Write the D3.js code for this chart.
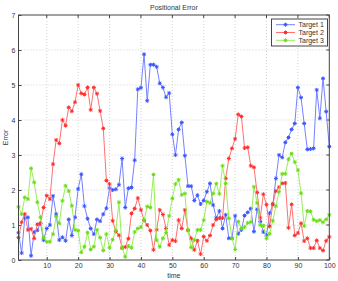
<!DOCTYPE html>
<html><head><meta charset="utf-8">
<script src="https://cdn.jsdelivr.net/npm/d3@7"></script>
<style>
html,body{margin:0;padding:0;background:#fff;}
text{font-family:"Liberation Sans",Arial,sans-serif;fill:#333;}
</style></head>
<body>
<svg id="chart" width="338" height="281"></svg>
<script>
const title = "Positional Error";
const xLabel = "time";
const yLabel = "Error";
const seriesNames = ["Target 1", "Target 2", "Target 3"];
const xTicks = [10,20,30,40,50,60,70,80,90,100];
const yTicks = [0,1,2,3,4,5,6,7];
const target1 = [0.78,0.2,1.2,1.22,0.12,0.8,0.85,1.05,0.57,0.9,1.0,1.83,1.31,0.57,0.65,0.55,1.16,0.7,1.22,2.03,2.45,1.54,1.18,0.9,0.74,1.16,1.11,1.31,1.48,2.06,2.0,2.02,2.15,2.9,1.5,2.05,2.07,2.85,4.88,4.92,5.88,4.55,5.58,5.58,5.52,5.05,4.93,4.65,4.77,3.59,3.0,3.73,3.93,2.98,2.11,2.11,1.7,1.85,1.6,1.7,1.95,2.19,1.57,1.2,1.4,0.9,1.29,0.62,0.62,1.26,0.75,0.86,1.27,1.36,1.47,0.81,1.45,1.1,0.8,0.71,1.34,1.58,2.33,3.0,2.93,3.36,3.5,3.73,3.9,4.93,4.64,3.9,3.16,3.17,3.19,4.86,4.05,5.19,4.24,3.24];
const target2 = [0.64,1.08,1.31,0.86,0.89,0.62,1.02,1.05,1.5,1.84,1.74,2.74,3.43,3.33,4.0,3.84,4.36,4.25,4.51,5.0,4.76,4.73,4.93,4.29,4.93,4.75,4.26,3.76,2.27,2.17,1.12,0.81,0.71,0.34,0.37,0.61,1.33,1.47,1.77,1.43,1.13,1.0,0.84,0.29,0.86,1.43,1.3,0.9,0.43,0.57,0.54,1.14,0.9,1.43,0.84,0.62,0.29,0.55,0.17,0.67,0.55,0.7,1.0,1.16,1.2,1.2,2.33,2.9,3.19,3.46,4.16,4.1,3.2,3.22,2.69,2.65,1.93,1.2,1.88,1.58,0.96,1.6,1.97,2.08,2.19,2.2,0.92,1.59,0.7,0.77,1.05,0.54,0.62,0.34,0.34,0.56,0.34,0.27,0.55,0.66];
const target3 = [1.52,1.31,1.79,1.74,2.62,2.22,1.65,1.22,0.64,0.52,0.52,0.74,1.24,1.05,1.69,2.12,1.97,1.55,0.86,0.84,0.22,0.38,0.78,0.3,0.38,0.86,0.64,0.27,0.74,0.35,0.58,0.85,1.65,0.36,0.09,0.4,0.35,0.8,0.9,0.94,1.14,1.53,1.5,2.44,0.57,0.38,0.62,0.78,1.26,1.76,2.17,2.29,1.86,1.9,0.86,0.36,0.57,0.86,0.86,1.14,1.67,1.63,1.9,2.18,1.89,2.69,2.19,1.19,0.62,0.3,1.1,0.9,0.94,1.06,1.08,2.09,1.63,1.0,0.98,0.62,0.75,1.12,1.54,1.95,2.46,2.46,2.88,3.04,2.8,2.57,1.91,0.97,1.4,1.39,1.15,1.11,1.14,1.08,1.16,1.29];
const lineColors = ["#7482ff","#ff7070","#98ee58"];
const markColors = ["#3a55ff","#ff2e2e","#6ade14"];

const allSeries = [target1, target2, target3];
const svg = d3.select("#chart");
const L = 18.5, R = 329.3, T = 15, B = 260;
const FS = "7px";
const x = d3.scaleLinear().domain([1,100]).range([L,R]);
const y = d3.scaleLinear().domain([0,7]).range([B,T]);

// grid
const g = svg.append("g");
g.selectAll(".gx").data(xTicks.filter(d=>d<100)).enter().append("line")
  .attr("x1",d=>x(d)).attr("x2",d=>x(d)).attr("y1",T).attr("y2",B)
  .attr("stroke","#c8c8c8").attr("stroke-width",0.8).attr("stroke-dasharray","1,2");
g.selectAll(".gy").data(yTicks.filter(d=>d>0&&d<7)).enter().append("line")
  .attr("y1",d=>y(d)).attr("y2",d=>y(d)).attr("x1",L).attr("x2",R)
  .attr("stroke","#c8c8c8").attr("stroke-width",0.8).attr("stroke-dasharray","1,2");

// axes via d3
const xAxis = d3.axisBottom(x).tickValues(xTicks).tickFormat(d3.format("d")).tickSize(-3).tickPadding(3.5);
const yAxis = d3.axisLeft(y).tickValues(yTicks).tickFormat(d3.format("d")).tickSize(-3).tickPadding(3);
const xa = svg.append("g").attr("transform",`translate(0,${B})`).call(xAxis);
const ya = svg.append("g").attr("transform",`translate(${L},0)`).call(yAxis);
[xa,ya].forEach(a=>{
  a.select(".domain").remove();
  a.selectAll("line").attr("stroke","#444");
  a.selectAll("text").attr("font-size",FS).attr("fill","#333").style("font-family","'Liberation Sans',Arial,sans-serif");
});
// top and right ticks
svg.append("g").selectAll("line").data(xTicks).enter().append("line")
  .attr("x1",d=>x(d)).attr("x2",d=>x(d)).attr("y1",T).attr("y2",T+3).attr("stroke","#444");
svg.append("g").selectAll("line").data(yTicks).enter().append("line")
  .attr("y1",d=>y(d)).attr("y2",d=>y(d)).attr("x1",R).attr("x2",R-3).attr("stroke","#444");

// series
const line = d3.line().x((d,i)=>x(i+1)).y(d=>y(d));
function star(sel, color){
  sel.each(function(){
    const s = d3.select(this);
    const r = 2, q = 1.45;
    s.append("path").attr("d",`M${-r},0L${r},0M0,${-r}L0,${r}M${-q},${-q}L${q},${q}M${-q},${q}L${q},${-q}`)
      .attr("stroke",color).attr("stroke-width",1).attr("fill","none");
  });
}
allSeries.forEach((data,k)=>{
  svg.append("path").datum(data).attr("d",line).attr("fill","none")
    .attr("stroke",lineColors[k]).attr("stroke-width",1);
  svg.append("g").selectAll("g").data(data).enter().append("g")
    .attr("transform",(d,i)=>`translate(${x(i+1)},${y(d)})`).call(star, markColors[k]);
});

// box
svg.append("rect").attr("x",L).attr("y",T).attr("width",R-L).attr("height",B-T)
  .attr("fill","none").attr("stroke","#444").attr("stroke-width",1);

// title & labels
svg.append("text").attr("x",(L+R)/2).attr("y",9.8).attr("text-anchor","middle")
  .attr("font-size",FS).text(title);
svg.append("text").attr("x",(L+R)/2).attr("y",277.5).attr("text-anchor","middle")
  .attr("font-size",FS).text(xLabel);
svg.append("text").attr("transform",`translate(8,${(T+B)/2}) rotate(-90)`).attr("text-anchor","middle")
  .attr("font-size",FS).text(yLabel);

// legend
const lg = svg.append("g");
lg.append("rect").attr("x",271.5).attr("y",19).attr("width",56).attr("height",27)
  .attr("fill","#fff").attr("stroke","#444").attr("stroke-width",1);
seriesNames.forEach((name,k)=>{
  const yy = 24.7 + k*7.8;
  lg.append("line").attr("x1",276).attr("x2",295).attr("y1",yy).attr("y2",yy)
    .attr("stroke",lineColors[k]).attr("stroke-width",1);
  lg.append("g").attr("transform",`translate(285.5,${yy})`).call(star, markColors[k]);
  lg.append("text").attr("x",298.5).attr("y",yy+2.5).attr("font-size",FS).text(name);
});
</script>
</body></html>
